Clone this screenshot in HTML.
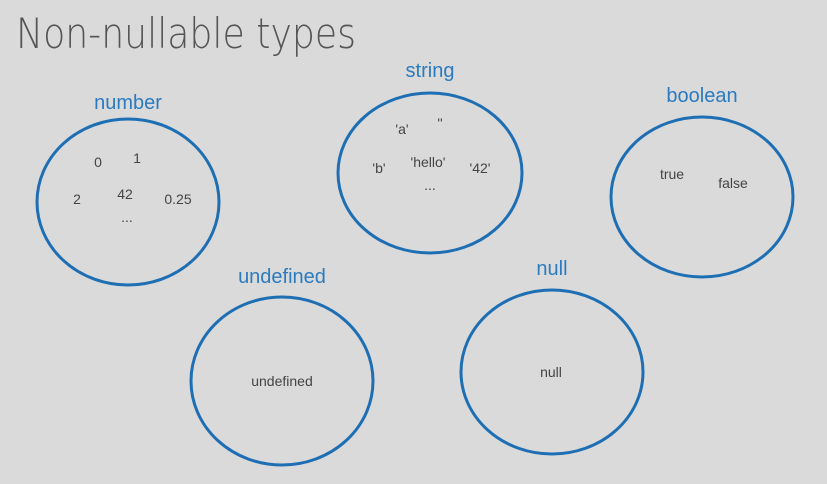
<!DOCTYPE html>
<html><head><style>
html,body{margin:0;padding:0;background:#dadada;}
svg{display:block}
</style></head><body>
<svg width="827" height="484" viewBox="0 0 827 484" xmlns="http://www.w3.org/2000/svg">
<rect width="827" height="484" fill="#dadada"/>
<text x="16" y="48" font-family="DejaVu Sans, Liberation Sans, sans-serif" font-size="42" fill="#555" font-weight="200" textLength="340" lengthAdjust="spacingAndGlyphs">Non-nullable types</text>
<g fill="none" stroke="#1e6eb4" stroke-width="3">
<ellipse cx="128" cy="202" rx="91" ry="83"/>
<ellipse cx="430" cy="173" rx="92" ry="80"/>
<ellipse cx="702" cy="197" rx="91" ry="80"/>
<ellipse cx="282" cy="381" rx="91" ry="84"/>
<ellipse cx="552" cy="372" rx="91" ry="82"/>
</g>
<g font-family="Liberation Sans, sans-serif" font-size="20" fill="#2a7bbf" text-anchor="middle">
<text x="128" y="109">number</text>
<text x="430" y="77">string</text>
<text x="702" y="102">boolean</text>
<text x="282" y="283">undefined</text>
<text x="552" y="275">null</text>
</g>
<g font-family="Liberation Sans, sans-serif" font-size="14" fill="#444" text-anchor="middle">
<text x="98" y="167">0</text>
<text x="137" y="163">1</text>
<text x="77" y="204">2</text>
<text x="125" y="199">42</text>
<text x="178" y="204">0.25</text>
<text x="127" y="222">...</text>
<text x="402" y="134">'a'</text>
<text x="440" y="128">''</text>
<text x="379" y="173">'b'</text>
<text x="428" y="167">'hello'</text>
<text x="480" y="173">'42'</text>
<text x="430" y="190">...</text>
<text x="672" y="179">true</text>
<text x="733" y="188">false</text>
<text x="282" y="386">undefined</text>
<text x="551" y="377">null</text>
</g>
</svg>
</body></html>
